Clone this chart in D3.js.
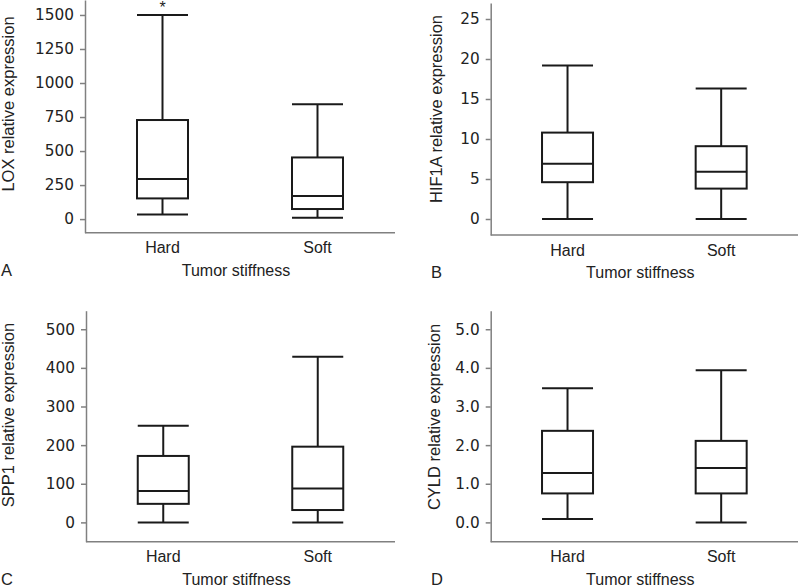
<!DOCTYPE html>
<html>
<head>
<meta charset="utf-8">
<script src="https://cdn.jsdelivr.net/npm/d3@7"></script>
<style>
  body { margin: 0; background: #fff; }
  svg { display: block; }
  .ytick text { font-family: "DejaVu Sans", Verdana, sans-serif; font-size: 15.3px; fill: #222; }
  .axis path, .axis line { stroke: #808080; stroke-width: 1.5; }
  .lbl { font-family: "Liberation Sans", Arial, sans-serif; fill: #222; }
  .box { fill: none; stroke: #1a1a1a; stroke-width: 2; }
</style>
</head>
<body>
<div id="chart"></div>
<script>
// summary stats per category: [min, q1, median, q3, max]
const categories = ['Hard', 'Soft'];
const loxStats = [[34, 152, 294, 728, 1500], [10, 74, 169, 453, 843]];
const hif1aStats = [[0, 4.6, 6.9, 10.8, 19.2], [0, 3.8, 5.9, 9.1, 16.3]];
const spp1Stats = [[0, 48, 81, 172, 250], [0, 32, 88, 196, 429]];
const cyldStats = [[0.09, 0.75, 1.28, 2.37, 3.47], [0, 0.75, 1.41, 2.11, 3.94]];

const loxTicks = [0, 250, 500, 750, 1000, 1250, 1500];
const hif1aTicks = [0, 5, 10, 15, 20, 25];
const spp1Ticks = [0, 100, 200, 300, 400, 500];
const cyldTicks = [0, 1, 2, 3, 4, 5];

const xTitle = 'Tumor stiffness';

const panels = [
  { letter: 'A', title: 'LOX relative expression', stats: loxStats, ticks: loxTicks, fmt: d3.format('d'),
    x0: 85, x1: 395, top: 0, bottom: 232.7, domain: [-100, 1610], star: 0,
    letterX: 1, titleX: 14, titleY: 104 },
  { letter: 'B', title: 'HIF1A relative expression', stats: hif1aStats, ticks: hif1aTicks, fmt: d3.format('d'),
    x0: 490.7, x1: 798, top: 3, bottom: 235, domain: [-2, 27],
    letterX: 431, titleX: 442, titleY: 109 },
  { letter: 'C', title: 'SPP1 relative expression', stats: spp1Stats, ticks: spp1Ticks, fmt: d3.format('d'),
    x0: 86, x1: 395, top: 310.7, bottom: 541.7, domain: [-50, 548],
    letterX: 1, titleX: 14, titleY: 415 },
  { letter: 'D', title: 'CYLD relative expression', stats: cyldStats, ticks: cyldTicks, fmt: d3.format('.1f'),
    x0: 490.7, x1: 798, top: 310.7, bottom: 541.7, domain: [-0.5, 5.48],
    letterX: 431, titleX: 440, titleY: 417 }
];

const boxWidth = 51;

const svg = d3.select('#chart').append('svg')
  .attr('width', 800)
  .attr('height', 587);

panels.forEach(p => {
  const g = svg.append('g');

  const y = d3.scaleLinear().domain(p.domain).range([p.bottom, p.top]);
  const x = d3.scalePoint().domain(categories).range([p.x0, p.x1]).padding(0.5);

  // y axis
  g.append('g')
    .attr('class', 'axis ytick')
    .attr('transform', `translate(${p.x0},0)`)
    .call(d3.axisLeft(y).tickValues(p.ticks).tickFormat(p.fmt).tickSize(5).tickSizeOuter(0).tickPadding(6));

  // x axis line
  g.append('line')
    .attr('x1', p.x0).attr('x2', p.x1)
    .attr('y1', p.bottom).attr('y2', p.bottom)
    .style('stroke', '#808080').style('stroke-width', 1.5);

  // boxes
  const b = g.selectAll('.bx').data(p.stats).enter().append('g')
    .attr('transform', (_, i) => `translate(${x(categories[i])},0)`);

  b.append('line').attr('class', 'box')
    .attr('x1', 0).attr('x2', 0)
    .attr('y1', d => y(d[0])).attr('y2', d => y(d[1]));
  b.append('line').attr('class', 'box')
    .attr('x1', 0).attr('x2', 0)
    .attr('y1', d => y(d[3])).attr('y2', d => y(d[4]));
  b.append('line').attr('class', 'box')
    .attr('x1', -boxWidth / 2).attr('x2', boxWidth / 2)
    .attr('y1', d => y(d[0])).attr('y2', d => y(d[0]));
  b.append('line').attr('class', 'box')
    .attr('x1', -boxWidth / 2).attr('x2', boxWidth / 2)
    .attr('y1', d => y(d[4])).attr('y2', d => y(d[4]));
  b.append('rect').attr('class', 'box')
    .attr('x', -boxWidth / 2).attr('width', boxWidth)
    .attr('y', d => y(d[3])).attr('height', d => y(d[1]) - y(d[3]));
  b.append('line').attr('class', 'box')
    .attr('x1', -boxWidth / 2).attr('x2', boxWidth / 2)
    .attr('y1', d => y(d[2])).attr('y2', d => y(d[2]));

  if (p.star !== undefined) {
    g.append('text').attr('class', 'lbl')
      .attr('x', x(categories[p.star]))
      .attr('y', y(p.stats[p.star][4]) - 2)
      .attr('text-anchor', 'middle')
      .style('font-size', '16px')
      .text('*');
  }

  // category labels
  g.selectAll('.cat').data(categories).enter().append('text')
    .attr('class', 'lbl')
    .attr('x', d => x(d))
    .attr('y', p.bottom + 20.6)
    .attr('text-anchor', 'middle')
    .style('font-size', '16px')
    .text(d => d);

  // x title
  g.append('text').attr('class', 'lbl')
    .attr('x', (p.x0 + p.x1) / 2 - 4)
    .attr('y', p.bottom + 43)
    .attr('text-anchor', 'middle')
    .style('font-size', '16px')
    .text(xTitle);

  // panel letter
  g.append('text').attr('class', 'lbl')
    .attr('x', p.letterX)
    .attr('y', p.bottom + 43)
    .style('font-size', '16.5px')
    .text(p.letter);

  // y title
  g.append('text').attr('class', 'lbl')
    .attr('transform', `translate(${p.titleX},${p.titleY}) rotate(-90)`)
    .attr('text-anchor', 'middle')
    .style('font-size', '16.5px')
    .text(p.title);
});
</script>
</body>
</html>
